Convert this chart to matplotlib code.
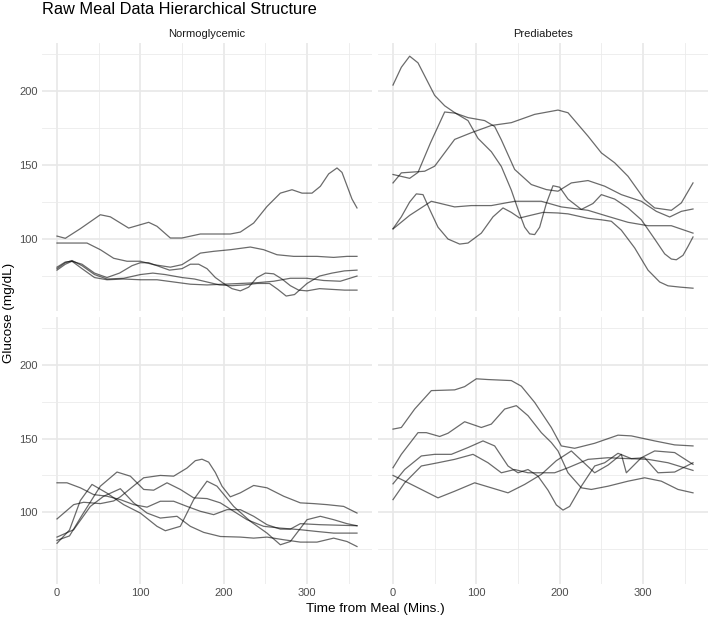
import matplotlib
matplotlib.use("Agg")
import matplotlib.pyplot as plt

# Normoglycemic, top row
na1_t = [0, 10, 28, 52, 64, 86, 110, 120, 136, 150, 172, 208, 220, 236, 252, 268, 282, 294, 306, 316, 326, 336, 342, 348, 354, 360]
na1_g = [102, 100.5, 107, 116.4, 115, 107.4, 111.3, 108.6, 100.7, 100.7, 103.4, 103.4, 104.7, 110.8, 122, 131, 133.3, 131, 131, 135.6, 144, 148, 145, 136, 127, 121]
na2_t = [0, 36, 52, 68, 84, 100, 116, 136, 150, 172, 188, 208, 232, 248, 264, 284, 312, 332, 348, 360]
na2_g = [97.3, 97.3, 92.8, 87, 85, 85, 82.7, 81, 82.7, 90.5, 91.7, 92.8, 94.6, 92.8, 89.4, 88.3, 88.3, 87.6, 88.3, 88.3]
na3_t = [0, 10, 18, 30, 45, 60, 80, 100, 115, 130, 150, 165, 180, 195, 210, 225, 240, 255, 265, 275, 285, 300, 315, 330, 345, 360]
na3_g = [80, 84, 85.5, 82, 76, 73, 73.5, 76, 77, 76, 74, 73, 71, 69, 68.5, 69, 70, 70, 66, 61.5, 62.5, 70, 75, 77, 78.5, 79]
na4_t = [0, 10, 18, 30, 45, 60, 75, 90, 100, 110, 120, 135, 150, 160, 170, 180, 190, 200, 210, 220, 230, 240, 250, 260, 270, 280, 290, 300, 315, 330, 345, 360]
na4_g = [79, 83, 85, 83, 77, 74, 77, 82, 84, 84, 82, 79, 80, 83, 83, 80, 74, 70, 66.5, 65, 67.5, 74, 77, 76.5, 73, 68.5, 65.5, 65, 66.5, 66, 65.5, 65.5]
na5_t = [0, 10, 18, 30, 45, 60, 80, 100, 120, 140, 160, 180, 200, 220, 240, 260, 280, 300, 320, 340, 360]
na5_g = [81, 84.5, 85, 80, 74, 72.5, 73, 72.5, 72.5, 71, 69.5, 69, 69.5, 70, 70.5, 71.5, 73.5, 73.5, 72, 71.5, 75]

# Prediabetes, top row
pa1_t = [0, 10, 20, 30, 40, 50, 62, 75, 90, 102, 118, 130, 142, 150, 158, 164, 170, 176, 184, 192, 200, 210, 226, 240, 250, 266, 282, 298, 314, 326, 334, 340, 348, 354, 360]
pa1_g = [204, 216, 223.5, 219, 208, 197, 190, 185, 180, 168, 159, 149, 133, 120, 108, 103.5, 103, 108, 124, 136, 135, 127, 120, 124, 130, 127, 121, 113, 100, 90, 86.5, 86, 89, 95, 101.4]
pa2_t = [0, 20, 30, 45, 62, 75, 90, 110, 122, 130, 146, 166, 184, 198, 214, 234, 254, 274, 298, 316, 332, 346, 360]
pa2_g = [143.6, 141, 145, 165, 185.8, 185, 182, 180, 176, 167, 147, 136.8, 133.4, 132.3, 137.9, 139.5, 135.7, 130, 125.5, 118.7, 114.9, 118.7, 120.3]
pa3_t = [0, 10, 38, 50, 74, 94, 118, 142, 170, 198, 210, 234, 250, 266, 282, 302, 314, 334, 346, 360]
pa3_g = [137.9, 144.7, 145.8, 149.2, 167.3, 171.8, 176.7, 178.6, 184.2, 187.1, 185.3, 169.5, 158.2, 151.5, 142.4, 126.6, 121, 119.4, 124.4, 137.9]
pa4_t = [0, 10, 20, 28, 36, 44, 54, 66, 80, 90, 106, 120, 132, 142, 152, 165, 180, 198, 210, 234, 250, 262, 274, 290, 306, 320, 330, 345, 360]
pa4_g = [107, 115, 125, 130.5, 130, 120, 108, 100, 96.6, 97.3, 104, 115, 121, 118, 114.2, 116, 118, 117.6, 117, 114, 113, 112, 106, 94, 79, 71, 68.4, 67.5, 66.8]
pa5_t = [0, 20, 46, 74, 94, 118, 146, 178, 202, 234, 258, 282, 306, 334, 360]
pa5_g = [106.8, 116, 125.5, 121.7, 122.6, 122.6, 125.5, 125.5, 121.7, 119.4, 115.3, 111.3, 109, 109, 104]

# Normoglycemic, bottom row
nb1_t = [0, 20, 32, 52, 68, 76, 90, 104, 124, 140, 156, 166, 174, 182, 190, 198, 208, 220, 236, 252, 272, 292, 308, 324, 344, 360]
nb1_g = [95.5, 105.2, 106.8, 105.9, 107.7, 110.5, 117, 123.4, 125, 124.5, 130, 135, 136, 134, 127, 117.7, 110.5, 113.2, 118.2, 116.6, 110.9, 106.4, 105.9, 105.2, 104, 99.5]
nb2_t = [0, 15, 30, 52, 72, 88, 104, 116, 132, 148, 164, 180, 196, 212, 228, 248, 268, 292, 312, 332, 360]
nb2_g = [81, 84, 98, 117.7, 127.3, 124.5, 115.5, 115, 120, 115.5, 109.8, 109.3, 106.4, 100.7, 95, 90.5, 89.3, 88.2, 87, 85.9, 85.9]
nb3_t = [0, 15, 28, 42, 60, 80, 100, 120, 130, 148, 164, 180, 192, 212, 232, 252, 268, 280, 300, 316, 332, 348, 360]
nb3_g = [79, 88, 108, 118.9, 113, 105.2, 99.5, 90.5, 87.5, 90.5, 108.6, 121.1, 117.7, 104, 93.9, 85.9, 78, 80.2, 95, 97.3, 95, 92.3, 90.9]
nb4_t = [0, 20, 40, 56, 76, 92, 108, 124, 144, 160, 176, 196, 220, 236, 252, 272, 292, 312, 332, 348, 360]
nb4_g = [83.2, 88.2, 104, 110.9, 116, 106.4, 99.5, 96.1, 97.3, 90.5, 86.4, 83.6, 83.2, 82.5, 83.2, 81.4, 79.8, 79.8, 82.5, 80.2, 76.8]
nb5_t = [0, 12, 28, 44, 60, 76, 92, 108, 124, 140, 156, 172, 188, 204, 220, 236, 252, 268, 280, 292, 316, 360]
nb5_g = [120, 120, 116.6, 112, 110.9, 108.6, 105.2, 103.5, 107.5, 107.5, 104, 100.7, 98.4, 101.8, 101.8, 97.3, 91.6, 88.6, 88.6, 92.3, 91.6, 90.9]

# Prediabetes, bottom row
pb1_t = [0, 10, 26, 46, 74, 86, 100, 114, 142, 154, 170, 190, 202, 218, 242, 270, 286, 314, 338, 360]
pb1_g = [156.4, 157.5, 170, 182.5, 183, 185.2, 190.5, 190, 189.3, 185.5, 174.5, 157.5, 145, 143.4, 146.8, 152.3, 151.8, 148.4, 145.7, 145]
pb2_t = [0, 10, 30, 40, 56, 66, 86, 106, 118, 134, 148, 162, 178, 190, 198, 210, 226, 238, 258, 282, 302, 322, 342, 360]
pb2_g = [130.2, 139.3, 154, 154, 151.4, 153.6, 161.4, 157.5, 159.8, 170, 172.3, 165.5, 154, 147.3, 141.6, 126.8, 116.6, 115.5, 117.7, 121.1, 123.4, 121.1, 115.5, 113.2]
pb3_t = [0, 14, 34, 50, 70, 90, 108, 122, 138, 150, 162, 174, 186, 196, 204, 212, 226, 242, 254, 270, 286, 302, 318, 338, 360]
pb3_g = [119.3, 129, 138.2, 139.3, 139.3, 143.9, 148.4, 145, 131.4, 126.8, 129, 124.5, 115, 105, 101.5, 104, 117.7, 131.4, 133.6, 140, 136.4, 137, 126.8, 127.3, 133.6]
pb4_t = [0, 14, 34, 54, 74, 96, 114, 130, 146, 162, 178, 194, 210, 234, 258, 282, 306, 330, 360]
pb4_g = [108.6, 120, 131.4, 133.6, 135.9, 139.3, 133.6, 126.8, 129, 126.8, 126.8, 126.8, 130.2, 135.9, 137, 136.4, 135.9, 133.6, 128.4]
pb5_t = [0, 10, 34, 54, 74, 98, 118, 138, 158, 178, 196, 214, 242, 258, 274, 280, 298, 314, 338, 360]
pb5_g = [125, 122.3, 115.5, 109.8, 114.3, 120, 116.6, 113.2, 118.9, 125.7, 135, 141.6, 126.8, 132, 139.3, 126.8, 137, 141.6, 140.5, 132.5]

panels = [
    [(na1_t, na1_g), (na2_t, na2_g), (na3_t, na3_g), (na4_t, na4_g), (na5_t, na5_g)],
    [(pa1_t, pa1_g), (pa2_t, pa2_g), (pa3_t, pa3_g), (pa4_t, pa4_g), (pa5_t, pa5_g)],
    [(nb1_t, nb1_g), (nb2_t, nb2_g), (nb3_t, nb3_g), (nb4_t, nb4_g), (nb5_t, nb5_g)],
    [(pb1_t, pb1_g), (pb2_t, pb2_g), (pb3_t, pb3_g), (pb4_t, pb4_g), (pb5_t, pb5_g)],
]
strip_labels = ["Normoglycemic", "Prediabetes"]

plt.rcParams['font.family'] = ['Liberation Sans', 'DejaVu Sans']

W, H = 709, 618
fig = plt.figure(figsize=(W / 100, H / 100), dpi=100)

col_x = [42, 378]
row_y = [(43, 311), (317, 584)]
pw = 330

for i, curves in enumerate(panels):
    r, c = divmod(i, 2)
    top, bot = row_y[r]
    ax = fig.add_axes([col_x[c] / W, 1 - bot / H, pw / W, (bot - top) / H])
    for t, g in curves:
        ax.plot(t, g, color='black', alpha=0.58, lw=0.9, solid_joinstyle='round')
    ax.set_xlim(-18, 378)
    ax.set_ylim(51.4, 232.4)
    ax.set_xticks([0, 100, 200, 300])
    ax.set_xticks([50, 150, 250, 350], minor=True)
    ax.set_yticks([100, 150, 200])
    ax.set_yticks([75, 125, 175, 225], minor=True)
    ax.grid(which='major', color='#e8e8e8', lw=1.2)
    ax.grid(which='minor', color='#ebebeb', lw=0.6)
    ax.set_axisbelow(True)
    for s in ax.spines.values():
        s.set_visible(False)
    ax.tick_params(which='both', length=0, labelsize=8, colors='#4d4d4d', pad=3)
    if c == 1:
        ax.tick_params(labelleft=False)
    if r == 0:
        ax.tick_params(labelbottom=False)
        ax.set_title(strip_labels[c], fontsize=8, color='#1a1a1a', pad=4)

fig.text(42 / W, 1 - 9 / H, "Raw Meal Data Hierarchical Structure", fontsize=11.8,
         ha='left', va='center', color='black')
fig.text(9 / W, 1 - 313 / H, "Glucose (mg/dL)", fontsize=9.7, rotation=90,
         ha='center', va='center')
fig.text(375 / W, 1 - 609 / H, "Time from Meal (Mins.)", fontsize=9.7,
         ha='center', va='center')

fig.savefig("out.png", dpi=100, facecolor='white')
